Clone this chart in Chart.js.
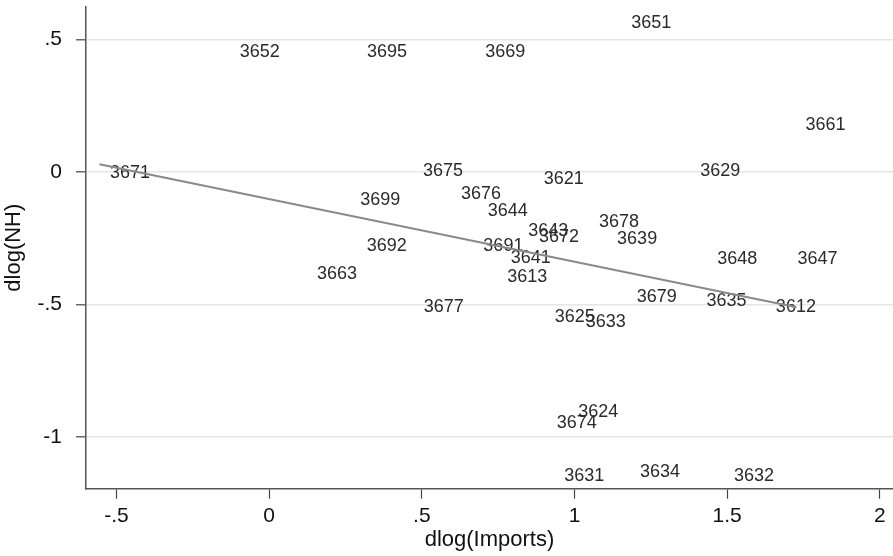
<!DOCTYPE html>
<html lang="en">
<head>
    <meta charset="UTF-8">
    <title>dlog(NH) vs dlog(Imports)</title>
    <script src="https://cdn.jsdelivr.net/npm/chart.js"></script>
    <style>
        body { margin: 0; background: #fff; }
        #wrap { width: 893px; height: 556px; }
    </style>
</head>
<body>
    <div id="wrap"><canvas id="grafico" width="893" height="556"></canvas></div>

    <script>
// industry codes used as marker labels
const codes = ['3652','3695','3669','3675','3621','3651','3661','3629','3671','3699','3676',
               '3644','3643','3672','3678','3639','3692','3691','3641','3663','3613','3677',
               '3679','3625','3633','3624','3674','3631','3634','3632','3648','3647','3635','3612'];
const dlogImports = [-0.131, 0.286, 0.673, 0.469, 0.865, 1.151, 1.722, 1.377, -0.556, 0.264, 0.594,
                     0.681, 0.814, 0.849, 1.046, 1.105, 0.285, 0.667, 0.757, 0.122, 0.745, 0.472,
                     1.169, 0.901, 1.002, 0.978, 0.907, 0.932, 1.180, 1.488, 1.433, 1.696, 1.398, 1.625];
const dlogNH = [0.453, 0.453, 0.453, 0.005, -0.026, 0.563, 0.177, 0.004, -0.005, -0.106, -0.083,
                -0.146, -0.224, -0.244, -0.187, -0.254, -0.278, -0.278, -0.325, -0.384, -0.397, -0.510,
                -0.472, -0.548, -0.567, -0.904, -0.945, -1.146, -1.130, -1.146, -0.328, -0.328, -0.485, -0.511];

// fitted line (ends at min and max of dlog(Imports))
const fitX = [-0.556, 1.727];
const fitY = [0.029, -0.510];

const xTicks = [-0.5, 0, 0.5, 1, 1.5, 2];
const xTickLabels = ['-.5', '0', '.5', '1', '1.5', '2'];
const yTicks = [-1, -0.5, 0, 0.5];
const yTickLabels = ['-1', '-.5', '0', '.5'];

const FONT = '"Liberation Sans", Arial, sans-serif';

// writes the code to the right of each (invisible) point, under the fit line
const markerLabels = {
    id: 'markerLabels',
    beforeDatasetsDraw(chart) {
        const ctx = chart.ctx;
        const meta = chart.getDatasetMeta(0);
        ctx.save();
        ctx.font = '18px ' + FONT;
        ctx.fillStyle = '#2b2b2b';
        ctx.textAlign = 'left';
        ctx.textBaseline = 'middle';
        meta.data.forEach((pt, i) => {
            ctx.fillText(codes[i], pt.x + 10.5, pt.y);
        });
        ctx.restore();
    }
};

new Chart(document.getElementById('grafico'), {
    type: 'scatter',
    data: {
        datasets: [{
            data: dlogImports.map((x, i) => ({ x: x, y: dlogNH[i] })),
            pointRadius: 0,
            pointHoverRadius: 0
        }, {
            type: 'line',
            data: fitX.map((x, i) => ({ x: x, y: fitY[i] })),
            borderColor: '#8a8a8a',
            borderWidth: 2,
            pointRadius: 0,
            fill: false
        }]
    },
    options: {
        responsive: false,
        animation: false,
        layout: { padding: { top: 6.7, right: 0, left: 0, bottom: 0 } },
        plugins: { legend: { display: false }, tooltip: { enabled: false } },
        scales: {
            x: {
                type: 'linear',
                min: -0.6,
                max: 2.043,
                afterBuildTicks: s => { s.ticks = xTicks.map(v => ({ value: v })); },
                afterFit: s => { s.height = 67.3; s.paddingLeft = 0; s.paddingRight = 0; },
                grid: { drawOnChartArea: false, tickLength: 10, tickColor: '#444', tickWidth: 1.2 },
                border: { color: '#555', width: 1.5 },
                ticks: {
                    padding: 5,
                    maxRotation: 0,
                    color: '#111',
                    font: { family: FONT, size: 21 },
                    callback: (v) => xTickLabels[xTicks.indexOf(v)]
                },
                title: {
                    display: true,
                    text: 'dlog(Imports)',
                    color: '#111',
                    font: { family: FONT, size: 22 },
                    padding: { top: 0, bottom: 3 }
                }
            },
            y: {
                type: 'linear',
                min: -1.194,
                max: 0.623,
                afterBuildTicks: s => { s.ticks = yTicks.map(v => ({ value: v })); },
                afterFit: s => { s.width = 86; s.paddingTop = 0; s.paddingBottom = 0; },
                grid: { color: '#e6e6e6', lineWidth: 1.6, tickLength: 10, tickColor: '#444', tickWidth: 1.2 },
                border: { color: '#555', width: 1.5 },
                ticks: {
                    padding: 14,
                    color: '#111',
                    font: { family: FONT, size: 21 },
                    callback: (v) => yTickLabels[yTicks.indexOf(v)]
                },
                title: {
                    display: true,
                    text: 'dlog(NH)',
                    color: '#111',
                    font: { family: FONT, size: 22 },
                    padding: { top: 1, bottom: 0 }
                }
            }
        }
    },
    plugins: [markerLabels]
});
    </script>
</body>
</html>
